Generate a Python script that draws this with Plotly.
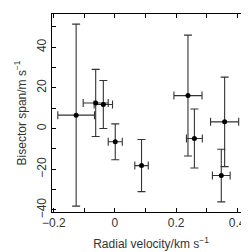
import plotly.graph_objects as go

rv = [-0.127, -0.063, -0.038, 0.001, 0.087, 0.239, 0.260, 0.359, 0.348]
rv_err = [0.060, 0.041, 0.030, 0.023, 0.022, 0.046, 0.026, 0.046, 0.029]
bis = [6.6, 12.6, 11.8, -6.5, -18.2, 16.2, -4.9, 3.3, -23.1]
bis_err = [44.7, 16.5, 11.8, 8.8, 12.8, 29.7, 14.5, 22.0, 12.9]

fig = go.Figure()
fig.add_trace(go.Scatter(
    x=rv, y=bis, mode="markers",
    marker=dict(color="black", size=5),
    error_x=dict(type="data", array=rv_err, color="#333", thickness=1.1, width=4),
    error_y=dict(type="data", array=bis_err, color="#333", thickness=1.1, width=4),
    showlegend=False,
))

axis_common = dict(
    showline=True, linecolor="black", linewidth=1, mirror="allticks",
    ticks="inside", ticklen=4, tickcolor="black", tickwidth=1,
    showgrid=False, zeroline=False,
    tickfont=dict(size=12, color="#333"),
)

fig.update_xaxes(range=[-0.206, 0.442], tick0=-0.2, dtick=0.2,
                 minor=dict(ticks="inside", dtick=0.1, ticklen=4, tickcolor="black", showgrid=False),
                 title=dict(text="Radial velocity/km s<sup>\u22121</sup>", font=dict(size=12, color="#333"), standoff=10),
                 **axis_common)
fig.update_yaxes(range=[-41.0, 56.3], tick0=0, dtick=20, tickangle=-90,
                 minor=dict(ticks="inside", dtick=10, ticklen=4, tickcolor="black", showgrid=False),
                 title=dict(text="Bisector span/m s<sup>\u22121</sup>", font=dict(size=12, color="#333"), standoff=6),
                 **axis_common)

fig.update_layout(
    width=249, height=252,
    margin=dict(l=44, r=7, t=6, b=48),
    paper_bgcolor="white", plot_bgcolor="white",
    font=dict(family="Liberation Sans, Arial, sans-serif"),
)

fig.write_html("out.html")
